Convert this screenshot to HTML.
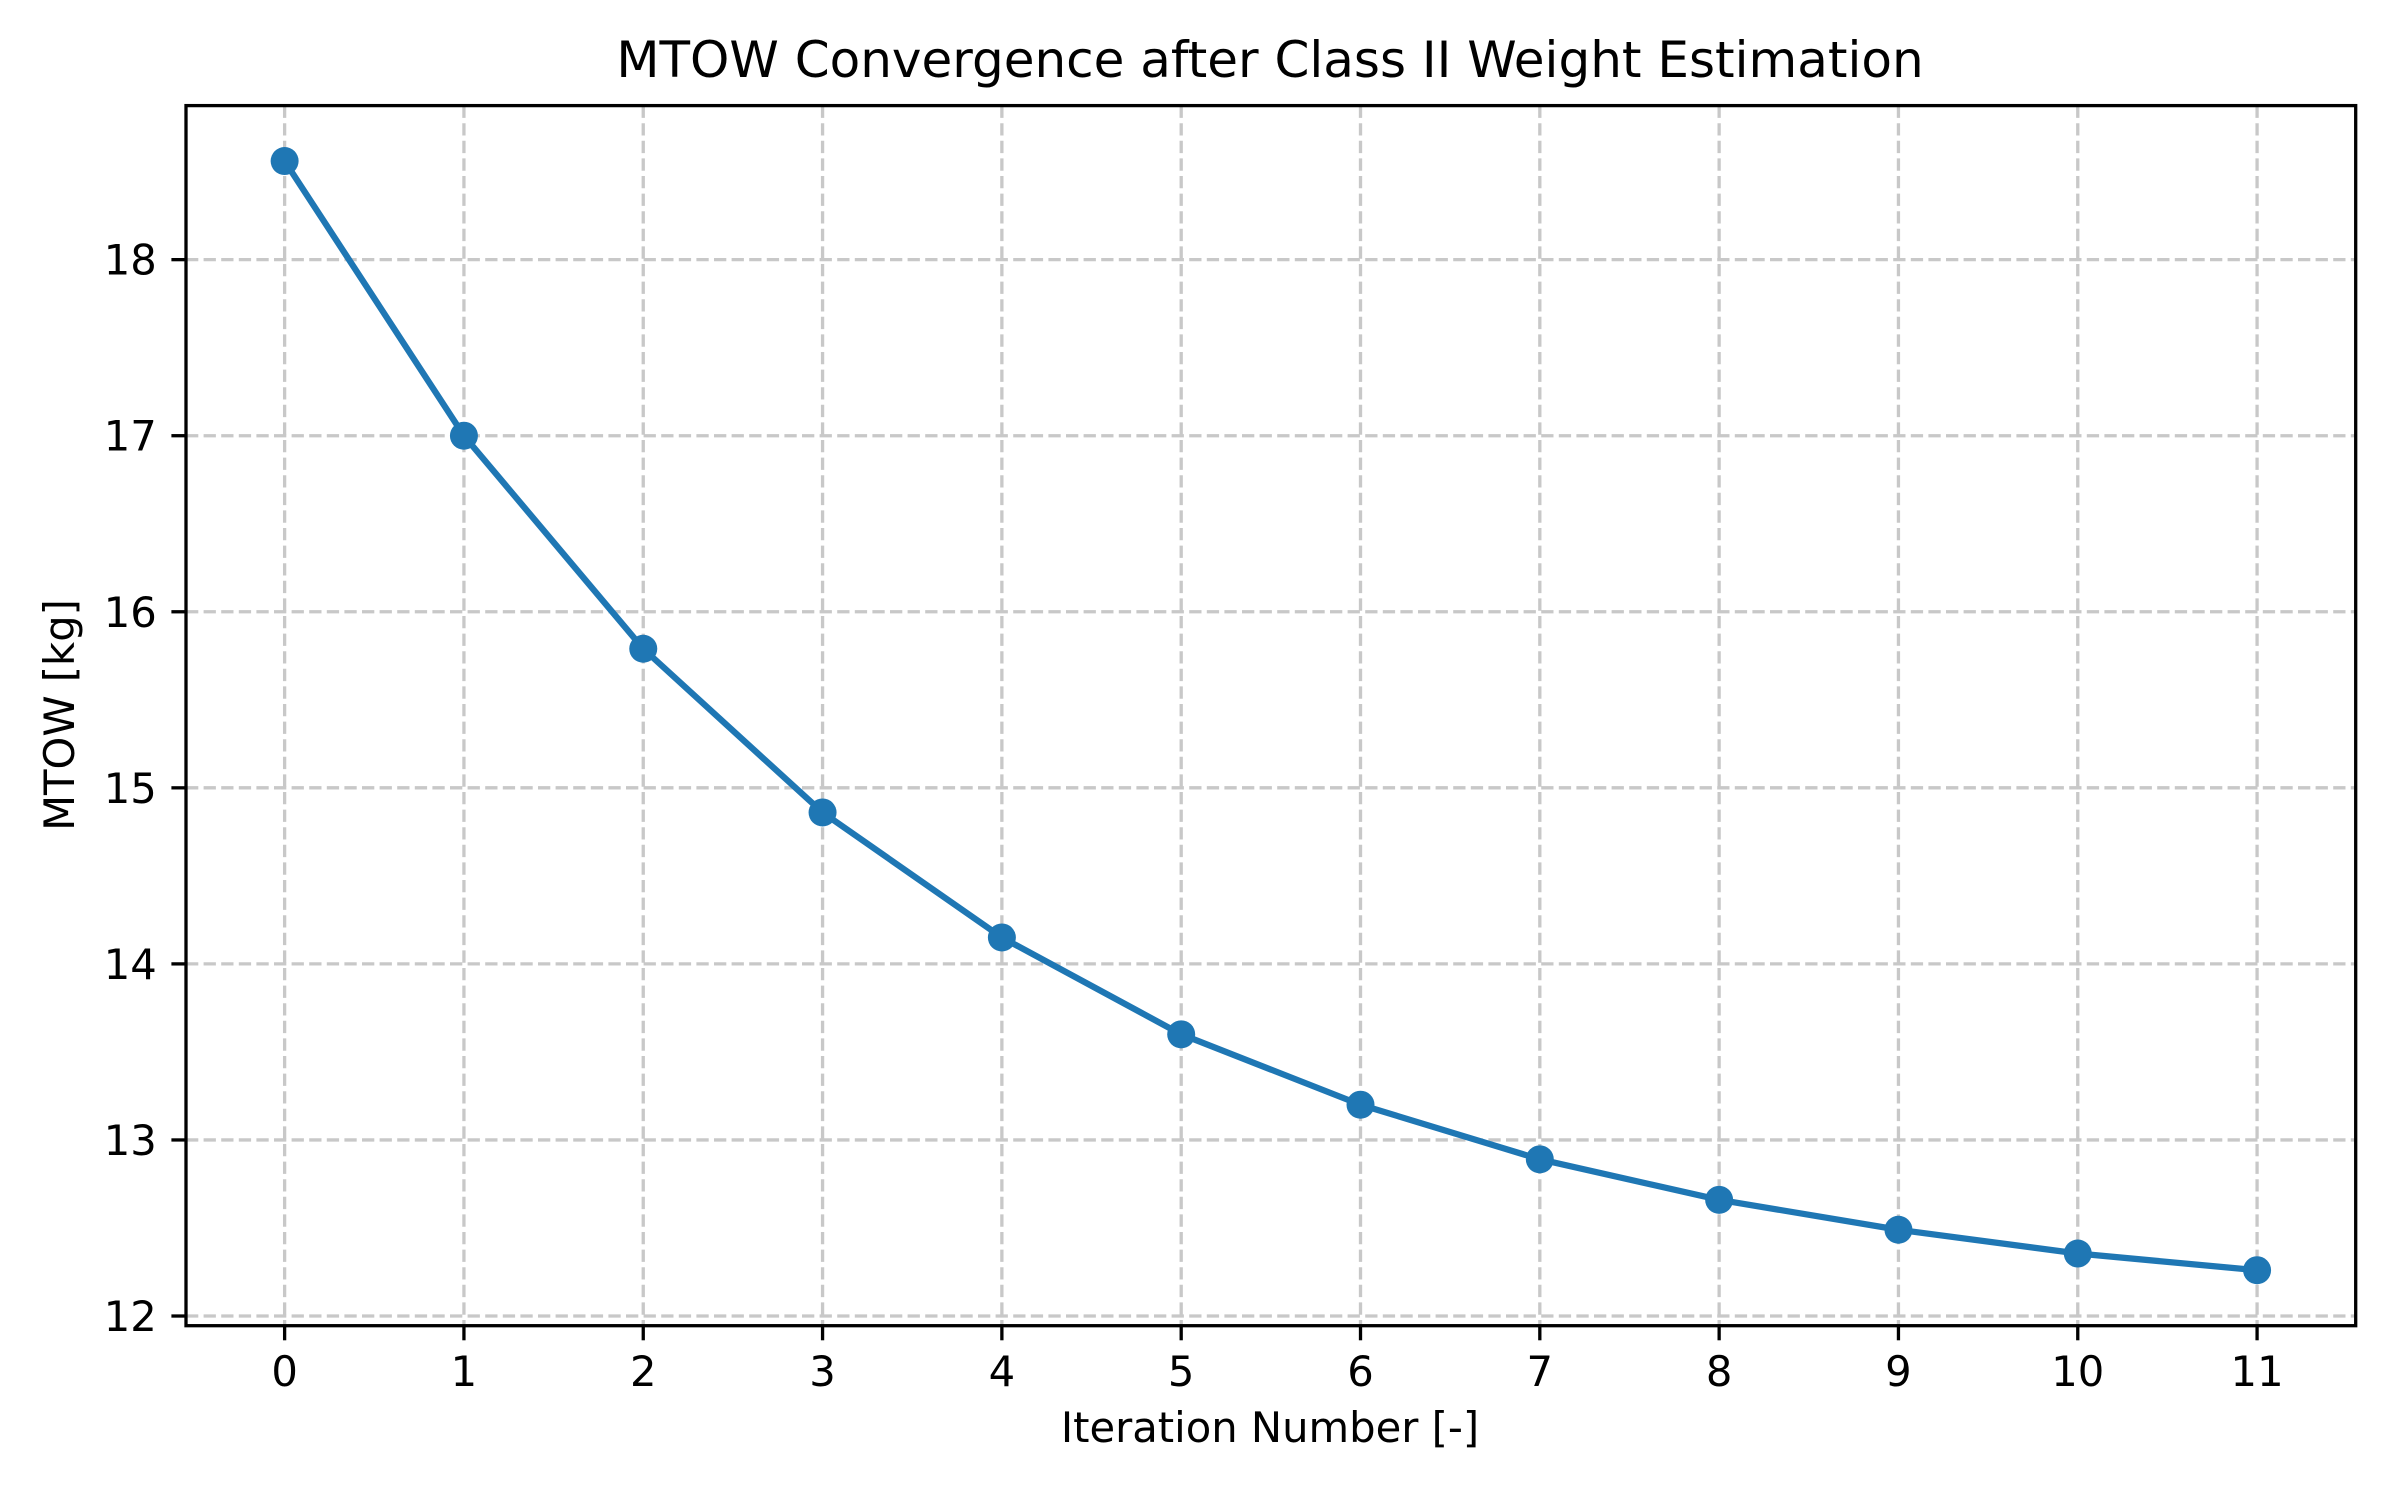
<!DOCTYPE html>
<html><head><meta charset="utf-8"><style>
html,body{margin:0;padding:0;background:#fff;}
svg{display:block;font-family:"DejaVu Sans","Liberation Sans",sans-serif;}
</style></head><body>
<svg id="chart" width="2400" height="1500" viewBox="0 0 2400 1500">
<rect x="0" y="0" width="2400" height="1500" fill="#fff"/>
<g id="grid"></g>
<g id="axes"></g>
<g id="series"></g>
<text x="1270" y="77" font-size="50" text-anchor="middle">MTOW Convergence after Class II Weight Estimation</text>
<text x="1270" y="1442" font-size="41.7" text-anchor="middle">Iteration Number [-]</text>
<text x="0" y="0" font-size="41.7" text-anchor="middle" transform="translate(74,715) rotate(-90)">MTOW [kg]</text>
</svg>
<script>
const iterations = [0,1,2,3,4,5,6,7,8,9,10,11];
const mtowValues = [18.56,17.0,15.79,14.86,14.15,13.60,13.20,12.89,12.66,12.49,12.355,12.26];
const xTicks = [0,1,2,3,4,5,6,7,8,9,10,11];
const yTicks = [12,13,14,15,16,17,18];

const NS = "http://www.w3.org/2000/svg";
const L = 186, R = 2355.7, T = 105.6, B = 1325.7;
const xMin = -0.55, xMax = 11.55;
const yMin = Math.min(...mtowValues), yMax = Math.max(...mtowValues);
const yLo = yMin - 0.05*(yMax-yMin), yHi = yMax + 0.05*(yMax-yMin);
function xs(v){ return L + (v - xMin)/(xMax - xMin)*(R - L); }
function ys(v){ return B - (v - yLo)/(yHi - yLo)*(B - T); }
function mk(tag, attrs, parent){
  const e = document.createElementNS(NS, tag);
  for (const k in attrs) e.setAttribute(k, attrs[k]);
  parent.appendChild(e);
  return e;
}
const grid = document.getElementById('grid');
const axes = document.getElementById('axes');
const series = document.getElementById('series');

xTicks.forEach(t => {
  const x = xs(t);
  const g = mk('line', {x1:x, x2:x, y1:T, y2:B, stroke:'#c8c8c8', 'stroke-width':3.3, 'stroke-dasharray':'12.3 5.3'}, grid);
  
  
  const tk = mk('line', {x1:x, x2:x, y1:B, y2:B+14.6, stroke:'#000', 'stroke-width':3.3}, axes);
  
  
  const lb = mk('text', {x:x, y:B+14.6+14.6+31, 'font-size':41.7, 'text-anchor':'middle'}, axes);
  lb.textContent = String(t);
  
  
});
yTicks.forEach(t => {
  const y = ys(t);
  const g = mk('line', {x1:L, x2:R, y1:y, y2:y, stroke:'#c8c8c8', 'stroke-width':3.3, 'stroke-dasharray':'12.3 5.3'}, grid);
  
  
  const tk = mk('line', {x1:L-14.6, x2:L, y1:y, y2:y, stroke:'#000', 'stroke-width':3.3}, axes);
  
  
  const lb = mk('text', {x:L-14.6-14.6, y:y+15, 'font-size':41.7, 'text-anchor':'end'}, axes);
  lb.textContent = String(t);
  
  
});
const frame = mk('rect', {x:L, y:T, width:R-L, height:B-T, fill:'none', stroke:'#000', 'stroke-width':3.3}, axes);



const pts = iterations.map((it,i) => xs(it)+','+ys(mtowValues[i])).join(' ');
const line = mk('polyline', {points:pts, fill:'none', stroke:'#1f77b4', 'stroke-width':6.25, 'stroke-linejoin':'round', 'stroke-linecap':'square'}, series);


iterations.forEach((it,i) => {
  const c = mk('circle', {cx:xs(it), cy:ys(mtowValues[i]), r:14, fill:'#1f77b4'}, series);
  
  
});
</script>
</body></html>
